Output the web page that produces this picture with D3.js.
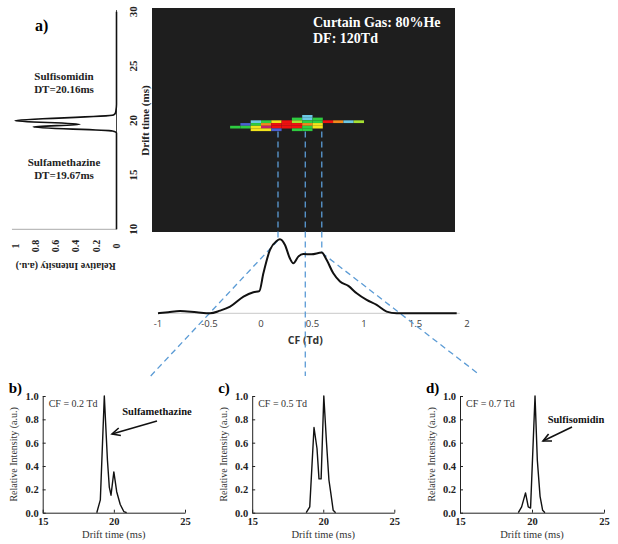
<!DOCTYPE html>
<html><head><meta charset="utf-8">
<script src="https://cdn.jsdelivr.net/npm/d3@7"></script>
<style>body{margin:0;background:#fff}svg{display:block}</style>
</head><body>
<svg id="c" width="618" height="544"></svg>
<script>
// ---------- DATA ----------
// panel a) left: arrival time distribution (rotated)
const leftDT = [30, 21.5, 20.96, 20.7, 20.5, 19.98, 19.65, 19.4, 19.03, 18.85, 10];
const leftI  = [0, 0, 0.005, 0.01, 0.03, 1.0, 0.36, 0.82, 0.04, 0, 0];
const leftDTTicks = [10, 15, 20, 25, 30];
const leftITicks = [0, 0.2, 0.4, 0.6, 0.8, 1];
const leftITickLabels = ["0", "0.2", "0.4", "0.6", "0.8", "1"];

// heatmap (CF columns x drift-time rows), level 0 = empty
const hmCF = [-0.25, -0.15, -0.05, 0.05, 0.15, 0.25, 0.35, 0.45, 0.55, 0.65, 0.75, 0.85, 0.95];
const hmDT = [20.38, 20.14, 19.89, 19.64, 19.39, 19.15];
const hmRow0 = [0,0,0,0,0,0,0,2,0,0,0,0,0];
const hmRow1 = [0,0,0,0,0,0,3,2,3,0,0,0,0];
const hmRow2 = [0,0,2,3,5,7,4,3,3,7,6,2,4];
const hmRow3 = [0,1,3,6,7,7,7,6,5,0,0,0,0];
const hmRow4 = [3,3,5,8,7,7,7,3,5,0,0,0,0];
const hmRow5 = [0,0,5,5,1,0,3,3,0,0,0,0,0];
const hmLevels = [1,2,3,4,5,6,7,8];
const hmColors = ["#4a5fd0","#6cc8e4","#2ecc40","#a6e032","#f2e41c","#f28a1c","#ee1010","#c2206a"];

// CF spectrum
const cfVals = [-1, -0.9, -0.786, -0.625, -0.495, -0.398, -0.3, -0.17, -0.074, -0.016, 0.023, 0.087, 0.152, 0.184, 0.233, 0.28, 0.314, 0.362, 0.41, 0.49, 0.589, 0.638, 0.702, 0.767, 0.848, 0.929, 1.026, 1.123, 1.22, 1.317, 1.9];
const cfInt  = [0, 0.015, 0.03, 0.013, 0, 0.036, 0.09, 0.225, 0.284, 0.30, 0.54, 0.856, 0.977, 1.0, 0.923, 0.743, 0.676, 0.766, 0.80, 0.797, 0.82, 0.72, 0.54, 0.43, 0.37, 0.27, 0.18, 0.113, 0.023, 0, 0];
const cfTicks = [-1, -0.5, 0, 0.5, 1, 1.5, 2];
const cfLines = [0.165, 0.43, 0.59];
const cfCross = [-0.5, 1.35];

// bottom panels
const bDT = [18.8, 19.05, 19.33, 19.55, 19.68, 19.8, 20.0, 20.2, 20.45, 20.7, 20.9];
const bI  = [0, 0.11, 1.0, 0.45, 0.22, 0.15, 0.35, 0.18, 0.07, 0.01, 0];
const cDT = [18.8, 19.05, 19.35, 19.56, 19.7, 19.85, 20.04, 20.23, 20.4, 20.53, 20.7, 20.87];
const cI  = [0, 0.05, 0.73, 0.55, 0.29, 0.29, 1.0, 0.6, 0.28, 0.17, 0.02, 0];
const dDT = [19.05, 19.28, 19.55, 19.74, 19.9, 20.21, 20.37, 20.56, 20.74, 20.9];
const dI  = [0, 0.05, 0.17, 0.05, 0.04, 1.0, 0.45, 0.14, 0.02, 0];
const panelXTicks = [15, 20, 25];
const panelYTicks = [0, 0.2, 0.4, 0.6, 0.8, 1.0];

// ---------- DRAWING ----------
const svg = d3.select("#c");
const serif = "'Liberation Serif','Times New Roman',serif";
const sans = "'Open Sans','Liberation Sans',Arial,sans-serif";

const dtY = d3.scaleLinear().domain([10, 30]).range([229.3, 11.7]);
const intX = d3.scaleLinear().domain([0, 1]).range([116.5, 15]);
const cfX = d3.scaleLinear().domain([-1, 2]).range([158, 467]);
const cfY = d3.scaleLinear().domain([0, 1]).range([313.3, 239.3]);

// --- panel a left ---
svg.append("line").attr("x1", intX(0)).attr("x2", intX(0))
  .attr("y1", dtY(30.15)).attr("y2", dtY(10)).attr("stroke", "#444").attr("stroke-width", 1);
svg.append("line").attr("x1", intX(1.03)).attr("x2", intX(0))
  .attr("y1", dtY(10)).attr("y2", dtY(10)).attr("stroke", "#aaa").attr("stroke-width", 1);
svg.append("path").datum(leftDT)
  .attr("d", d3.line().x((d, i) => intX(leftI[i])).y(d => dtY(d)).curve(d3.curveMonotoneY))
  .attr("fill", "none").attr("stroke", "#111").attr("stroke-width", 1.6);
svg.selectAll(".ldt").data(leftDTTicks).join("text")
  .attr("transform", d => `translate(133,${dtY(d)}) rotate(-90)`)
  .attr("text-anchor", "middle").attr("dy", "0.35em")
  .attr("font-family", serif).attr("font-weight", "bold").attr("font-size", 11).attr("fill", "#222")
  .text(d => d);
svg.selectAll(".lit").data(leftITicks).join("text")
  .attr("transform", d => `translate(${intX(d)},246) rotate(-90)`)
  .attr("text-anchor", "middle").attr("dy", "0.35em")
  .attr("font-family", serif).attr("font-weight", "bold").attr("font-size", 10).attr("fill", "#222")
  .text((d, i) => leftITickLabels[i]);
svg.append("text").attr("transform", `translate(${intX(0.5)},266) rotate(180)`)
  .attr("text-anchor", "middle").attr("dy", "0.35em")
  .attr("font-family", serif).attr("font-weight", "bold").attr("font-size", 10).attr("fill", "#222")
  .text("Relative Intensity (a.u.)");
svg.append("text").attr("x", 35).attr("y", 31).attr("font-family", serif).attr("font-weight", "bold")
  .attr("font-size", 16).text("a)");
const lblA = [["Sulfisomidin", 80], ["DT=20.16ms", 93], ["Sulfamethazine", 166], ["DT=19.67ms", 179]];
svg.selectAll(".lbla").data(lblA).join("text")
  .attr("x", 64).attr("y", d => d[1]).attr("text-anchor", "middle")
  .attr("font-family", serif).attr("font-weight", "bold").attr("font-size", 11).attr("fill", "#222")
  .text(d => d[0]);
svg.append("text").attr("transform", `translate(145,${dtY(20)}) rotate(-90)`)
  .attr("text-anchor", "middle").attr("dy", "0.35em")
  .attr("font-family", serif).attr("font-weight", "bold").attr("font-size", 11).attr("fill", "#222")
  .text("Drift time (ms)");

// --- heatmap ---
svg.append("rect").attr("x", 152).attr("y", 8).attr("width", 303).attr("height", 224).attr("fill", "#1e1e1e");
const color = d3.scaleOrdinal().domain(hmLevels).range(hmColors);
const hmRows = [hmRow0, hmRow1, hmRow2, hmRow3, hmRow4, hmRow5];
const cells = [];
hmRows.forEach((row, r) => row.forEach((lv, c) => { if (lv > 0) cells.push({cf: hmCF[c], dt: hmDT[r], lv}); }));
const cw = 0.1, rh = 0.25;
svg.selectAll(".cell").data(cells).join("rect")
  .attr("x", d => cfX(d.cf - cw / 2)).attr("width", cfX(cw) - cfX(0))
  .attr("y", d => dtY(d.dt + rh / 2)).attr("height", dtY(0) - dtY(rh))
  .attr("fill", d => color(d.lv));
svg.append("text").attr("x", 313).attr("y", 27).attr("font-family", serif).attr("font-weight", "bold")
  .attr("font-size", 14).attr("fill", "#fff").text("Curtain Gas: 80%He");
svg.append("text").attr("x", 313).attr("y", 43).attr("font-family", serif).attr("font-weight", "bold")
  .attr("font-size", 14).attr("fill", "#fff").text("DF: 120Td");

// --- CF spectrum ---
svg.append("line").attr("x1", cfX(-1)).attr("x2", cfX(1.93)).attr("y1", cfY(0)).attr("y2", cfY(0))
  .attr("stroke", "#c8c8c8").attr("stroke-width", 1);
svg.selectAll(".cft").data(cfTicks).join("text")
  .attr("x", d => cfX(d)).attr("y", 327).attr("text-anchor", "middle")
  .attr("font-family", sans).attr("font-size", 9.5).attr("fill", "#404040").text(d => d);
svg.append("text").attr("x", cfX(0.43)).attr("y", 344).attr("text-anchor", "middle")
  .attr("font-family", sans).attr("font-weight", "bold").attr("font-size", 10.5).attr("fill", "#333").text("CF (Td)");

const interp = cf => {
  const i = d3.bisectRight(cfVals, cf) - 1;
  const t = (cf - cfVals[i]) / (cfVals[i + 1] - cfVals[i]);
  return cfInt[i] + t * (cfInt[i + 1] - cfInt[i]);
};
const dashC = "#5b9bd5";
const yTop = dtY(19.0);
cfLines.forEach((cf, i) => {
  const yEnd = i === 1 ? 376 : cfY(interp(cf));
  svg.append("line").attr("x1", cfX(cf)).attr("x2", cfX(cf)).attr("y1", yTop).attr("y2", yEnd)
    .attr("stroke", dashC).attr("stroke-width", 1.3).attr("stroke-dasharray", "6,4");
});
[[cfLines[0], cfCross[0], 377], [cfLines[2], cfCross[1], 374]].forEach(([cf0, cross, yE]) => {
  const x0 = cfX(cf0), y0 = cfY(interp(cf0));
  const x1 = cfX(cross), y1 = cfY(0);
  const k = (x1 - x0) / (y1 - y0);
  svg.append("line").attr("x1", x0).attr("y1", y0).attr("x2", x1 + k * (yE - y1)).attr("y2", yE)
    .attr("stroke", dashC).attr("stroke-width", 1.3).attr("stroke-dasharray", "6,4");
});
svg.append("path").datum(cfVals)
  .attr("d", d3.line().x(d => cfX(d)).y((d, i) => cfY(cfInt[i])).curve(d3.curveMonotoneX))
  .attr("fill", "none").attr("stroke", "#111").attr("stroke-width", 2);

// --- bottom panels ---
const panels = [
  {x0: 42.7, x1: 185, letter: "b)", cf: "CF = 0.2 Td", dt: bDT, it: bI,
   name: "Sulfamethazine", nx: 157, ny: 415, arrow: [157, 421, 112, 434]},
  {x0: 252.2, x1: 394.3, letter: "c)", cf: "CF = 0.5 Td", dt: cDT, it: cI},
  {x0: 460, x1: 604, letter: "d)", cf: "CF = 0.7 Td", dt: dDT, it: dI,
   name: "Sulfisomidin", nx: 576, ny: 423, arrow: [572, 427, 543, 441]}
];
panels.forEach(p => {
  const xs = d3.scaleLinear().domain([15, 25]).range([p.x0, p.x1]);
  const ys = d3.scaleLinear().domain([0, 1]).range([512.7, 396]);
  const g = svg.append("g");
  const gx = g.append("g").attr("transform", `translate(0,${ys(0)})`)
    .call(d3.axisBottom(xs).tickValues(panelXTicks).tickSizeInner(-3).tickSizeOuter(0).tickPadding(5));
  const gy = g.append("g").attr("transform", `translate(${xs(15)},0)`)
    .call(d3.axisLeft(ys).tickValues(panelYTicks).tickFormat(d3.format(".1f")).tickSizeInner(-3).tickSizeOuter(0).tickPadding(4));
  [gx, gy].forEach(a => {
    a.selectAll("text").attr("font-family", serif).attr("font-weight", "bold").attr("font-size", 10.5).attr("fill", "#222");
    a.selectAll("line,path").attr("stroke", "#222");
  });
  g.append("path").datum(p.dt)
    .attr("d", d3.line().x(d => xs(d)).y((d, i) => ys(p.it[i])))
    .attr("fill", "none").attr("stroke", "#111").attr("stroke-width", 1.4).attr("stroke-linejoin", "round");
  g.append("text").attr("x", xs(20)).attr("y", 538).attr("text-anchor", "middle")
    .attr("font-family", serif).attr("font-size", 10.5).attr("fill", "#333").text("Drift time (ms)");
  g.append("text").attr("transform", `translate(${xs(15) - 29},${ys(0.5)}) rotate(-90)`)
    .attr("text-anchor", "middle").attr("dy", "0.35em")
    .attr("font-family", serif).attr("font-size", 10).attr("fill", "#333").text("Relative Intensity (a.u.)");
  g.append("text").attr("x", xs(15) - 34).attr("y", 393)
    .attr("font-family", serif).attr("font-weight", "bold").attr("font-size", 15).text(p.letter);
  g.append("text").attr("x", xs(15) + 6).attr("y", 407)
    .attr("font-family", serif).attr("font-size", 10).attr("fill", "#333").text(p.cf);
  if (p.name) {
    g.append("text").attr("x", p.nx).attr("y", p.ny).attr("text-anchor", "middle")
      .attr("font-family", serif).attr("font-weight", "bold").attr("font-size", 10.5).attr("fill", "#111").text(p.name);
    const [ax, ay, bx, by] = p.arrow;
    g.append("line").attr("x1", ax).attr("y1", ay).attr("x2", bx).attr("y2", by)
      .attr("stroke", "#111").attr("stroke-width", 1.6);
    const ang = Math.atan2(ay - by, ax - bx), L = 9, sp = 0.45;
    const pts = [[bx + L * Math.cos(ang + sp), by + L * Math.sin(ang + sp)], [bx, by], [bx + L * Math.cos(ang - sp), by + L * Math.sin(ang - sp)]];
    g.append("path").attr("d", d3.line()(pts)).attr("fill", "none").attr("stroke", "#111").attr("stroke-width", 1.6);
  }
});
</script>
</body></html>
